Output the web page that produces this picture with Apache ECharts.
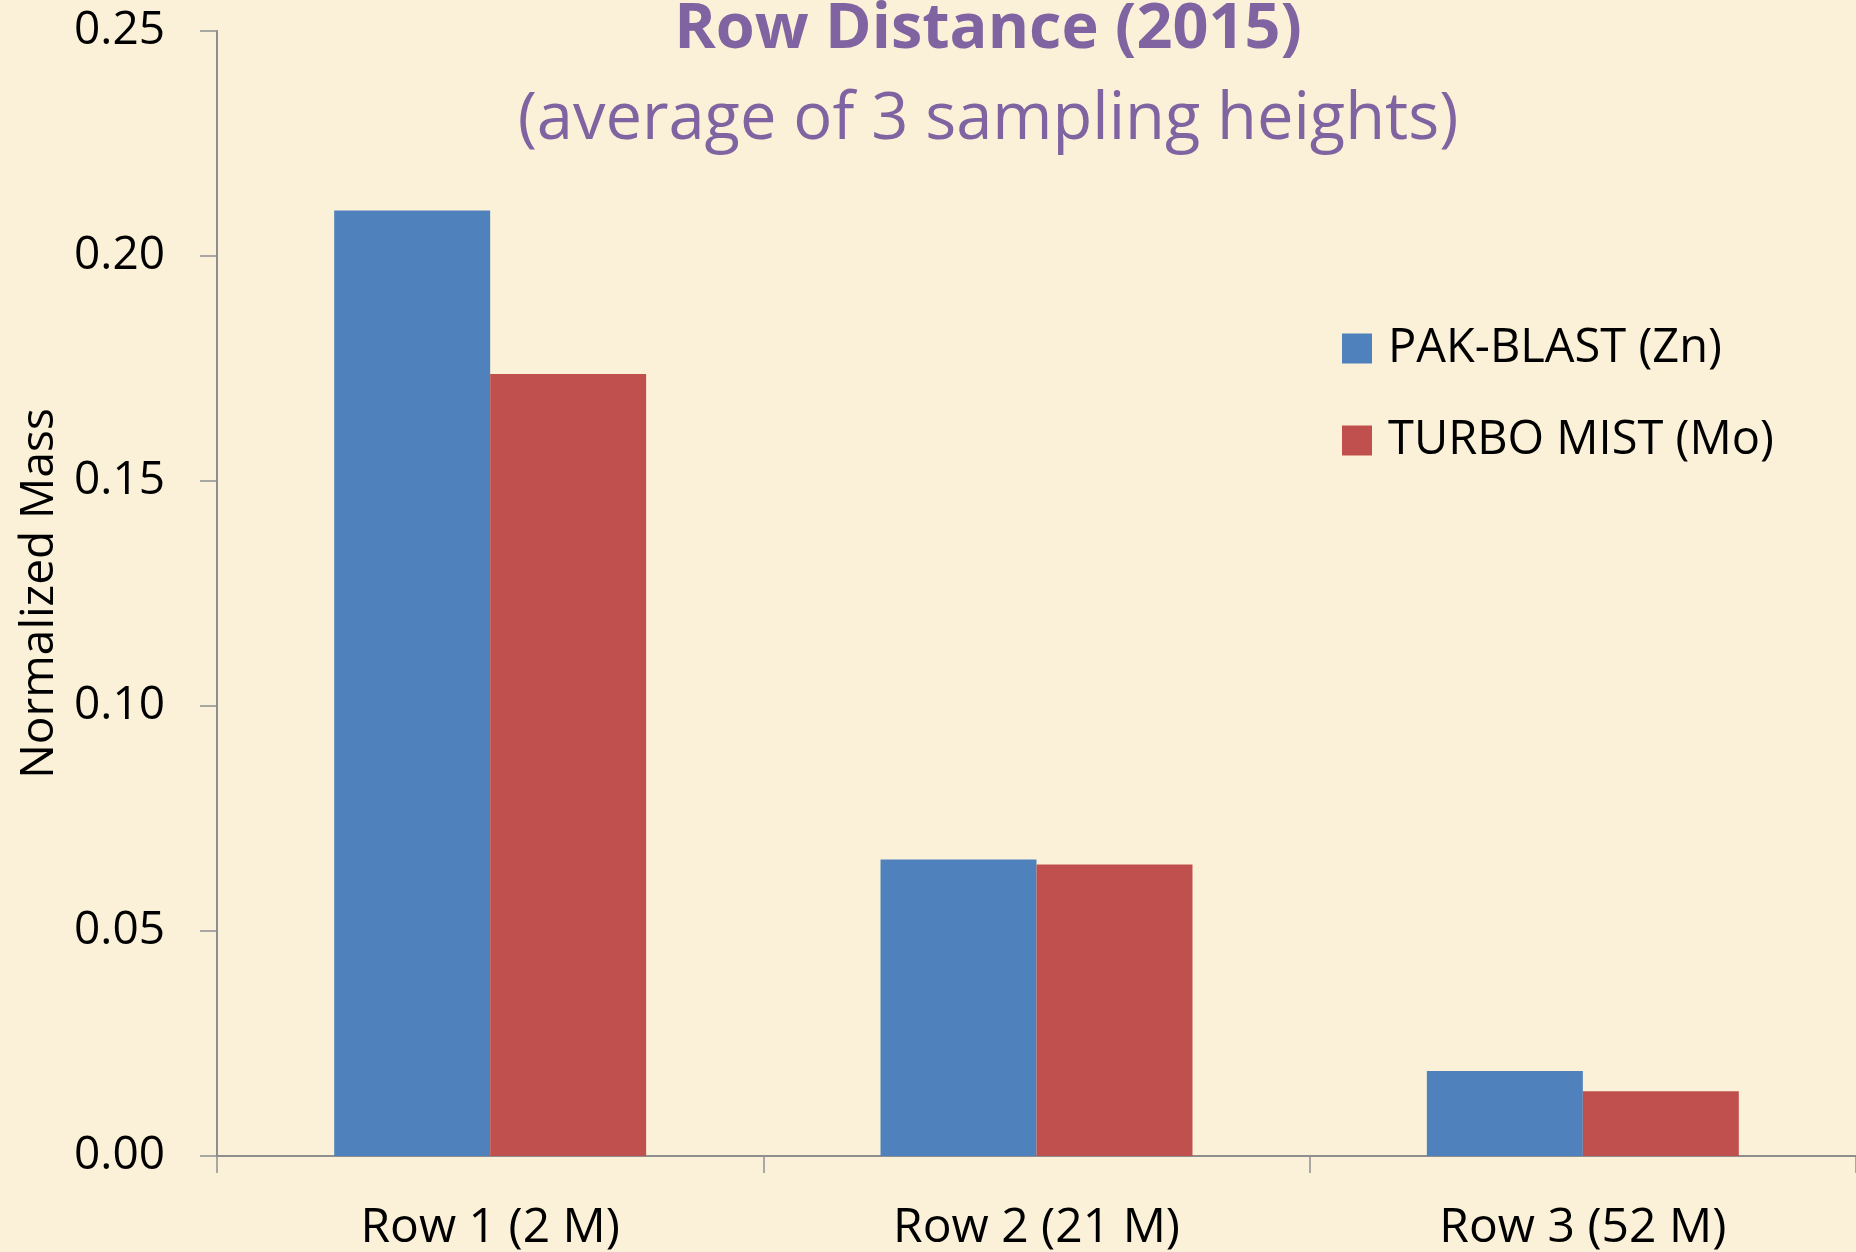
<!DOCTYPE html>
<html>
<head>
<meta charset="utf-8">
<script src="https://cdn.jsdelivr.net/npm/echarts@6/dist/echarts.min.js"></script>
<style>
html,body{margin:0;padding:0;background:#FBF1D8;}
#chart{width:1856px;height:1252px;}
</style>
</head>
<body>
<div id="chart"></div>
<script>
var categories = ['Row 1 (2 M)', 'Row 2 (21 M)', 'Row 3 (52 M)'];
var seriesNames = ['PAK-BLAST (Zn)', 'TURBO MIST (Mo)'];
var pakBlast = [0.2101, 0.0659, 0.0189];
var turboMist = [0.1738, 0.0648, 0.0144];
var yTicks = [0, 0.05, 0.10, 0.15, 0.20, 0.25];
var titleText = 'Row Distance (2015)';
var subtitleText = '(average of 3 sampling heights)';
var yAxisName = 'Normalized Mass';

var FONT = '"Open Sans", "Noto Sans", sans-serif';
var chart = echarts.init(document.getElementById('chart'), null, {renderer: 'canvas'});
chart.setOption({
  backgroundColor: '#FBF1D8',
  animation: false,
  title: [{
    text: titleText,
    left: 988, top: -1, padding: 0, textAlign: 'center',
    textStyle: {fontFamily: FONT, fontSize: 63, fontWeight: 'bold', color: '#8064A2', lineHeight: 63}
  }, {
    text: subtitleText,
    left: 988, top: 88, padding: 0, textAlign: 'center',
    textStyle: {fontFamily: FONT, fontSize: 65, fontWeight: 'normal', color: '#8064A2', lineHeight: 65}
  }],
  legend: {
    orient: 'vertical',
    left: 1342, top: 325, padding: 0,
    itemWidth: 30, itemHeight: 30, itemGap: 45,
    icon: 'rect',
    data: seriesNames,
    textStyle: {fontFamily: FONT, fontSize: 47, color: '#000', lineHeight: 47, padding: [0, 0, 0, 11]}
  },
  grid: {left: 217, top: 31, bottom: 95, width: 1655, containLabel: false},
  xAxis: {
    type: 'category',
    data: categories,
    axisLine: {lineStyle: {color: '#8E8E8E', width: 2}},
    axisTick: {show: true, length: 17, lineStyle: {color: '#8E8E8E', width: 1.5}},
    axisLabel: {fontFamily: FONT, fontSize: 48, color: '#000', margin: 48},
    splitLine: {show: false}
  },
  yAxis: {
    type: 'value',
    min: 0, max: 0.25, interval: 0.05,
    name: yAxisName,
    nameLocation: 'middle',
    nameGap: 154,
    nameTextStyle: {fontFamily: FONT, fontSize: 46, color: '#000'},
    axisLine: {show: true, lineStyle: {color: '#8E8E8E', width: 2}},
    axisTick: {show: true, length: 17, lineStyle: {color: '#8E8E8E', width: 1.5}},
    axisLabel: {
      fontFamily: FONT, fontSize: 46, color: '#000', margin: 52,
      formatter: function (v) { return v.toFixed(2); }
    },
    splitLine: {show: false}
  },
  series: [{
    name: seriesNames[0], type: 'bar', data: pakBlast,
    barGap: '0%', barCategoryGap: '42.9%',
    itemStyle: {color: '#4F81BD'}
  }, {
    name: seriesNames[1], type: 'bar', data: turboMist,
    barGap: '0%', barCategoryGap: '42.9%',
    itemStyle: {color: '#C0504D'}
  }]
});
</script>
</body>
</html>
